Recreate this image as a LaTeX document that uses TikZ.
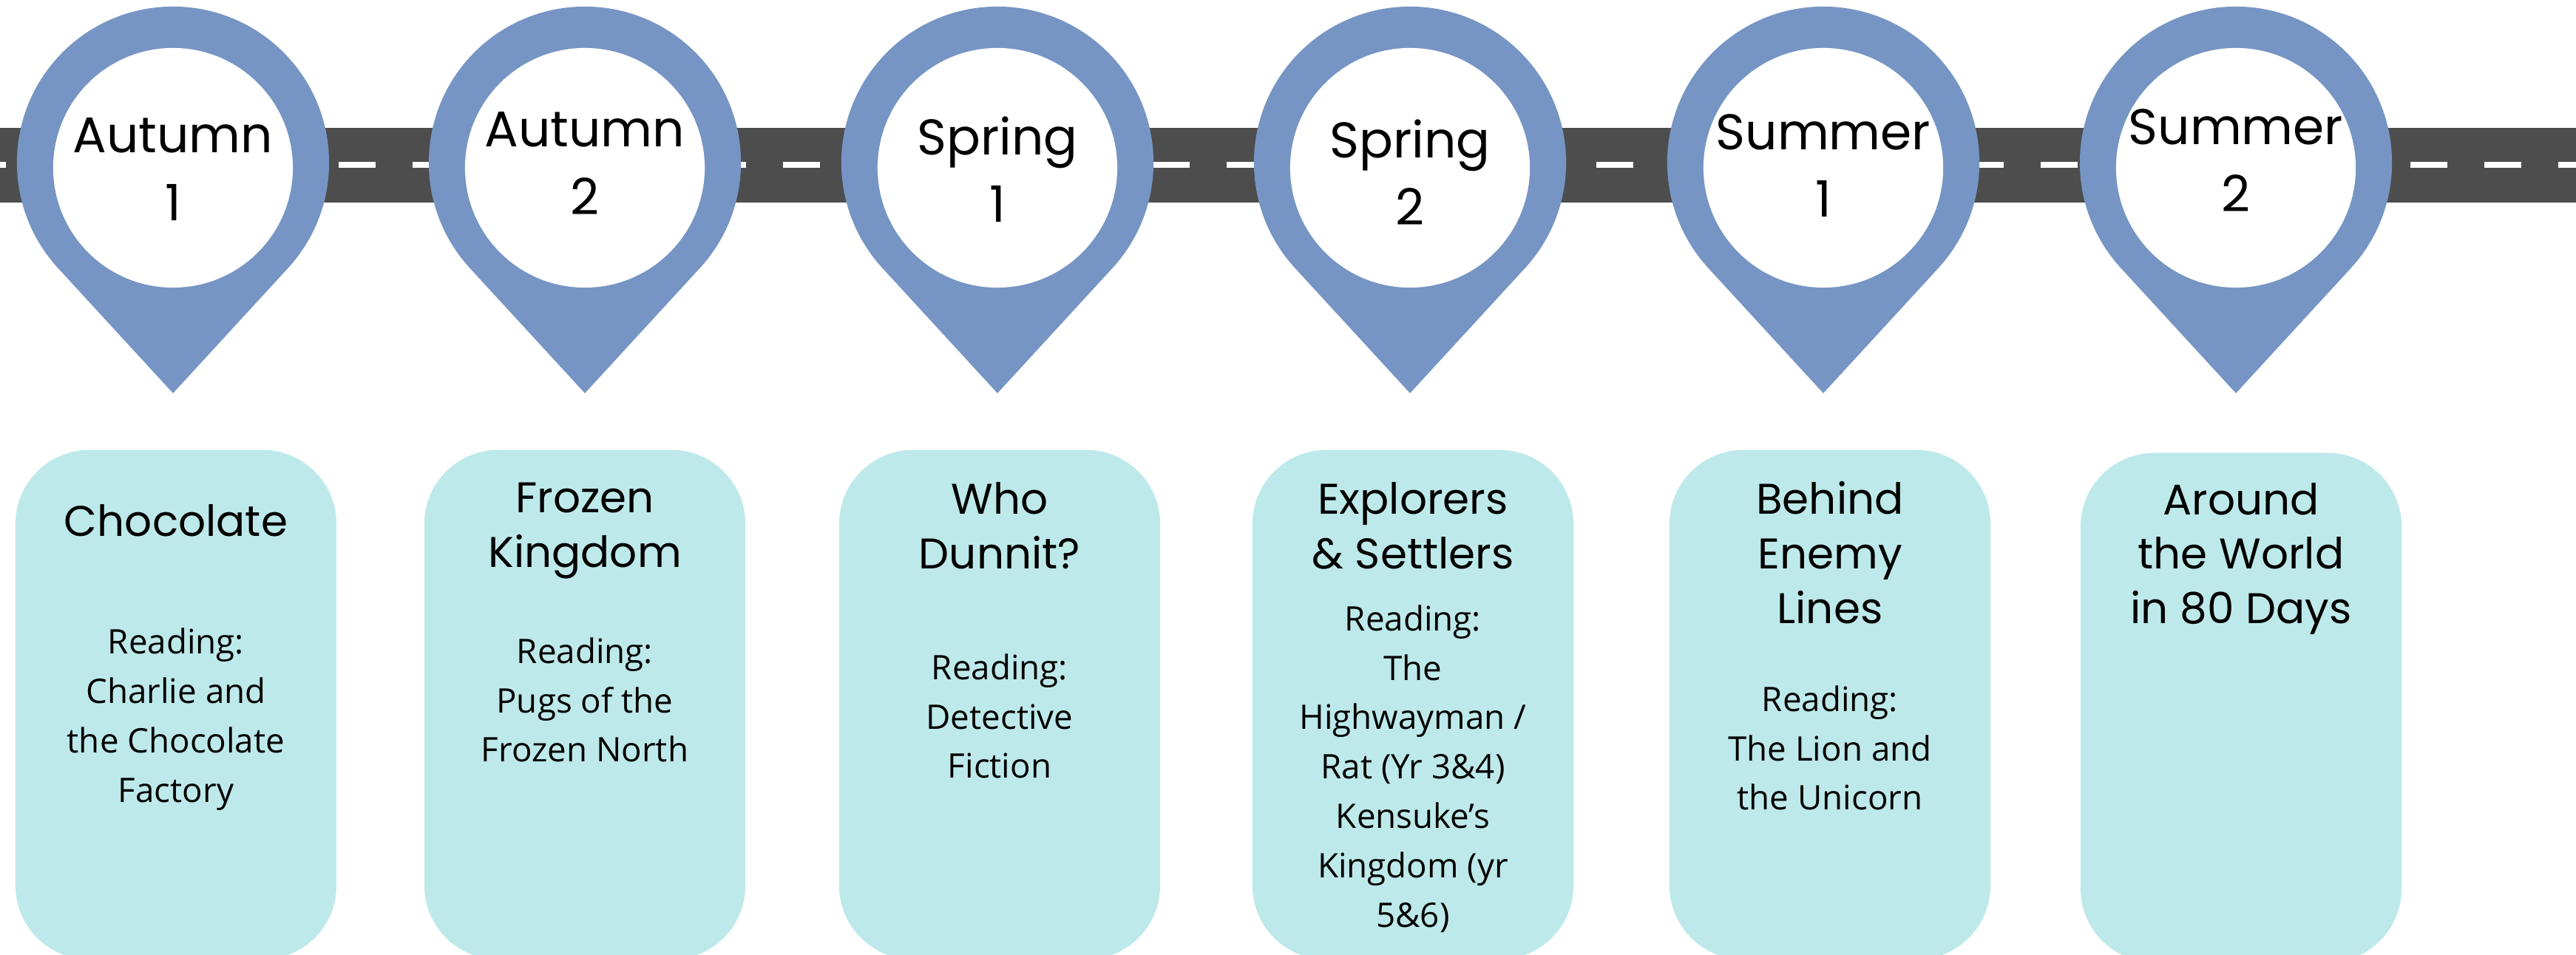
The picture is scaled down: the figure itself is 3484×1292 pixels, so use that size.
\documentclass[tikz,border=0pt]{standalone}
\usepackage{fontspec}
\setmainfont{Open Sans}
\newfontfamily\headfont{Poppins}
\definecolor{pinblue}{RGB}{118,149,196}
\definecolor{roadgrey}{RGB}{77,77,77}
\definecolor{cardcyan}{RGB}{190,233,234}
\tikzset{
  pinlabel/.style={align=center, font=\headfont\fontsize{19.3}{26}\selectfont},
  cardbox/.style={fill=cardcyan, rounded corners=1cm, inner sep=0pt,
    minimum width=4.34cm, minimum height=6.89cm, anchor=north},
  cardtitle/.style={align=center, font=\headfont\fontsize{16.5}{21}\selectfont},
  cardbody/.style={align=center, font=\fontsize{13}{19}\selectfont}
}
\begin{document}
\begin{tikzpicture}[x=0.01cm,y=0.01cm]
    \useasboundingbox (0,0) rectangle (3484,-1292);
    \clip (0,0) rectangle (3484,-1292);

    %Road
    \fill[roadgrey] (0,-173) rectangle (3484,-274);
    \draw[white, line width=0.08cm, dash pattern=on 0.5cm off 0.5cm, dash phase=0.42cm]
      (0,-223) -- (3484,-223);

    %Pins
    \foreach \i/\x/\ty/\season/\num in {1/234/-229/Autumn/1, 2/791/-221/Autumn/2,
      3/1349/-229/Spring/1, 4/1907/-233/Spring/2, 5/2466/-224/Summer/1, 6/3024/-217/Summer/2}
    {
      \fill[pinblue] (\x,-220) ++(-42.6:2.11cm)
        arc[start angle=-42.6, end angle=222.6, radius=2.11cm] -- (\x,-532) -- cycle;
      \fill[white] (\x,-227) circle[radius=1.62cm];
      \node[pinlabel] (pin\i) at (\x,\ty) {\season\\\num};
    }

    %Cards
    \foreach \i/\x/\top/\title/\tty in {1/238/-608/{Chocolate}/-704,
      2/791/-608/{Frozen\\Kingdom}/-718, 3/1352/-608/{Who\\Dunnit?}/-711,
      4/1911/-608/{Explorers\\\& Settlers}/-711, 5/2475/-608/{Behind\\Enemy\\Lines}/-748,
      6/3031/-612/{Around\\the World\\in 80 Days}/-756}
    {
      \node[cardbox] (card\i) at (\x,\top) {};
      \node[cardtitle] (title\i) at (\x,\tty) {\title};
    }

    \foreach \i/\x/\body/\by in {1/238/{Reading:\\Charlie and\\the Chocolate\\Factory}/-973,
      2/791/{Reading:\\Pugs of the\\Frozen North}/-947,
      3/1352/{Reading:\\Detective\\Fiction}/-969,
      4/1911/{Reading:\\The\\Highwayman /\\Rat (Yr 3\&4)\\Kensuke’s\\Kingdom (yr\\5\&6)}/-1040,
      5/2475/{Reading:\\The Lion and\\the Unicorn}/-1012}
    {
      \node[cardbody] (body\i) at (\x,\by) {\body};
    }
\end{tikzpicture}
\end{document}
